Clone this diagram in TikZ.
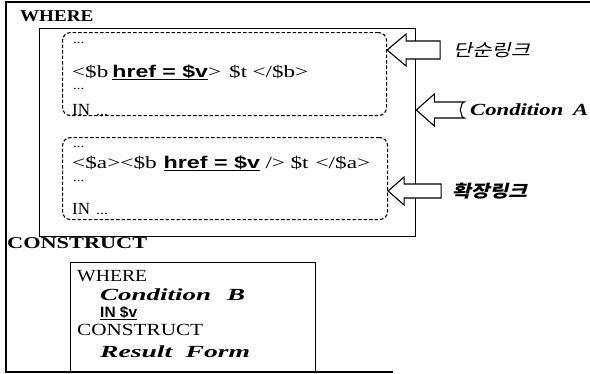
\documentclass[tikz,border=0pt]{standalone}
\usepackage{fontspec}
\setmainfont{Liberation Serif}
\newfontfamily\refsans{Liberation Sans}
\newfontfamily\kr{Noto Sans CJK KR}[FakeSlant=0.2]
\usetikzlibrary{positioning,calc}
% stretch a text to a given width, keep its height
\newcommand\fitto[2]{\resizebox{#1}{\height}{#2}}

\begin{document}
\begin{tikzpicture}[
  x=1pt, y=-1pt,
  txt/.style={inner sep=0pt, anchor=base west, font=\fontsize{17}{20}\selectfont},
  hdr/.style={txt, font=\fontsize{16.5}{19}\selectfont\bfseries},
  itb/.style={txt, font=\fontsize{17}{20}\selectfont\bfseries\itshape},
  dots/.style={txt, font=\fontsize{12}{13}\selectfont},
  tag/.style={inner sep=0pt, anchor=west, font=\fontsize{17}{19}\selectfont\kr},
  frame/.style={line width=1.3pt},
  sbox/.style={draw, line width=1.3pt, inner sep=0pt, anchor=north west},
  dbox/.style={draw, dash pattern=on 3.5pt off 2pt, line width=1.1pt,
               rounded corners=8pt, inner sep=0pt, anchor=north west},
  blk/.style={draw, fill=white, line width=1.1pt, line join=miter},
]
\useasboundingbox (0,0) rectangle (590,373);

% outer frame
\draw[frame] (590,2) -- (6,2) -- (6,372) -- (393,372);

% WHERE part
\node[hdr] (where) at (20,21) {\fitto{73pt}{WHERE}};
\node[sbox, minimum width=376pt, minimum height=208pt] (inner) at (39,28) {};
\node[dbox, minimum width=324pt, minimum height=83pt] (lk1) at (62,32) {};
\node[dbox, minimum width=325pt, minimum height=82pt] (lk2) at (62,137) {};

% first link block
\node[dots] (d1a) at (73,43) {\fitto{11pt}{...}};
\node[txt] (ln1) at (72,77) {\fitto{236pt}{<\$b\hspace{3pt}\underline{\refsans\bfseries href = \$v}>\hspace{6pt}\$t\hspace{4pt}</\$b>}};
\node[dots] (d1b) at (73,89) {\fitto{11pt}{...}};
\node[txt] (in1) at (72,115) {IN\hspace{6pt}{\fontsize{12}{13}\selectfont\fitto{12pt}{...}}};

% second link block
\node[dots] (d2a) at (73,147) {\fitto{11pt}{...}};
\node[txt] (ln2) at (72,168) {\fitto{298pt}{<\$a><\$b\hspace{5pt}\underline{\refsans\bfseries href = \$v}\hspace{4pt}/>\hspace{4pt}\$t\hspace{5pt}</\$a>}};
\node[dots] (d2b) at (73,181) {\fitto{11pt}{...}};
\node[txt] (in2) at (72,214) {IN\hspace{6pt}{\fontsize{12}{13}\selectfont\fitto{12pt}{...}}};

% labels on the right
\node[tag] (simple) at (453,50) {\fitto{77pt}{단순링크}};
\node[tag, font=\fontsize{17}{19}\selectfont\kr\bfseries] (extended) at (452,191) {\fitto{75pt}{확장링크}};
\node[itb, anchor=west] (condA) at (470,110) {\fitto{118pt}{Condition\hspace{3pt} A}};

% block arrows
\draw[blk] (lk1.east |- simple.west) -- ++(19,-16) -- ++(0,7) -- ++(34,0)
  -- ++(0,18) -- ++(-34,0) -- ++(0,7) -- cycle;
\draw[blk] (lk2.east |- extended.west) -- ++(16,-14) -- ++(0,7) -- ++(37,0)
  -- ++(0,14) -- ++(-37,0) -- ++(0,7) -- cycle;
\draw[blk] (inner.east |- condA.west) -- ++(18,-16) -- ++(0,8) -- ++(30,0)
  .. controls +(-4,1) and +(2,-3) .. ++(-4,8)
  .. controls +(2,3) and +(-4,-1) .. ++(4,8)
  -- ++(-30,0) -- ++(0,8) -- cycle;

% CONSTRUCT part
\node[hdr] (construct) at (7,248) {\fitto{140pt}{CONSTRUCT}};
\node[sbox, minimum width=245pt, minimum height=110pt] (cbox) at (70,262) {};
\node[txt] (cwhere) at (77,281) {\fitto{70pt}{WHERE}};
\node[itb] (condB) at (100,300) {\fitto{145pt}{Condition\hspace{6pt} B}};
\node[txt, font=\fontsize{15}{17}\selectfont] (inv) at (100,317) {\fitto{37pt}{\underline{\refsans\bfseries IN \$v}}};
\node[txt] (ccons) at (77,335) {\fitto{126pt}{CONSTRUCT}};
\node[itb] (result) at (100,357) {\fitto{150pt}{Result\hspace{4pt} Form}};
\end{tikzpicture}
\end{document}
